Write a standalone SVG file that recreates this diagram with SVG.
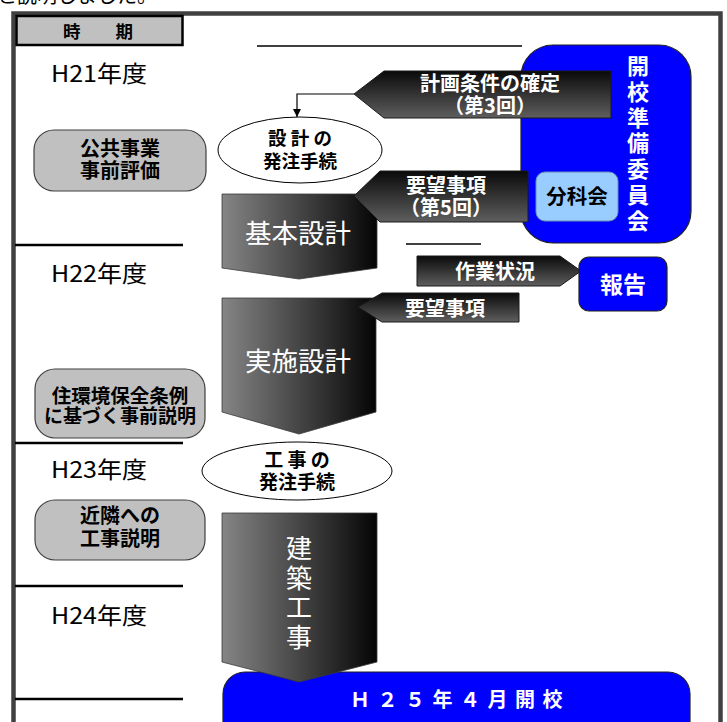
<svg xmlns="http://www.w3.org/2000/svg" width="727" height="722" viewBox="0 0 727 722">
<defs>
<linearGradient id="gH" x1="0" y1="0" x2="1" y2="0">
<stop offset="0" stop-color="#858585"/>
<stop offset="1" stop-color="#050505"/>
</linearGradient>
<linearGradient id="gV" x1="0" y1="0" x2="0" y2="1">
<stop offset="0" stop-color="#0a0a0a"/>
<stop offset="1" stop-color="#5e5e5e"/>
</linearGradient>
<marker id="ah" viewBox="0 0 10 10" refX="10" refY="5" markerWidth="8" markerHeight="8" markerUnits="userSpaceOnUse" orient="auto">
<path d="M0,0 L10,5 L0,10 z" fill="#000"/>
</marker>
<style>
text{font-family:"Noto Sans CJK JP","Noto Sans CJK SC",sans-serif;}
.b{font-weight:bold;}
.w{fill:#fff;}
.k{fill:#000;}
.mid{text-anchor:middle;}
.year{font-size:23px;fill:#000;}
.gbox{fill:#c0c0c0;stroke:#404040;stroke-width:1.2;}
.big{fill:url(#gH);stroke:#3a3a3a;stroke-width:0.8;}
.lab{fill:url(#gV);stroke:#1a1a1a;stroke-width:1;}
.blue{fill:#0000ff;stroke:#222;stroke-width:1.2;}
.ell{fill:#fff;stroke:#000;stroke-width:1;}
.sep{stroke:#000;stroke-width:2.5;}
.thin{stroke:#000;stroke-width:1.5;}
.vert{writing-mode:vertical-rl;}
</style>
</defs>
<rect width="727" height="722" fill="#fff"/>
<text x="-3" y="3" font-size="20" fill="#000">と説明しました。</text>

<rect x="13.5" y="13.5" width="707" height="730" fill="none" stroke="#404040" stroke-width="4.5"/>

<g id="header">
<rect x="16.5" y="16" width="166" height="29" fill="#c0c0c0" stroke="#000" stroke-width="2.5"/>
<text x="98" y="37.5" font-size="17.5" class="b k mid">時　　期</text>
</g>

<g id="year-lines">
<line x1="15" y1="245" x2="183" y2="245" class="sep"/>
<line x1="15" y1="443" x2="183" y2="443" class="sep"/>
<line x1="15" y1="586" x2="183" y2="586" class="sep"/>
<line x1="15" y1="699" x2="183" y2="699" class="sep"/>
<line x1="257" y1="46" x2="522" y2="46" class="thin"/>
<line x1="406" y1="244" x2="481" y2="244" class="thin"/>
</g>

<g id="years">
<text x="51" y="82" class="year" textLength="96" lengthAdjust="spacingAndGlyphs">H21年度</text>
<text x="51" y="282" class="year" textLength="96" lengthAdjust="spacingAndGlyphs">H22年度</text>
<text x="51" y="478" class="year" textLength="96" lengthAdjust="spacingAndGlyphs">H23年度</text>
<text x="51" y="624" class="year" textLength="96" lengthAdjust="spacingAndGlyphs">H24年度</text>
</g>

<g id="node-kokyo">
<rect x="34" y="130" width="172" height="61" rx="20" class="gbox"/>
<text font-size="20" class="b k mid"><tspan x="120" y="155.5">公共事業</tspan><tspan x="120" y="177.5">事前評価</tspan></text>
</g>
<g id="node-jukankyo">
<rect x="35" y="369" width="170" height="69" rx="20" class="gbox"/>
<text font-size="19.5" class="b k mid"><tspan x="120" y="402.5">住環境保全条例</tspan><tspan x="120" y="422.5" font-size="19">に基づく事前説明</tspan></text>
</g>
<g id="node-kinrin">
<rect x="35" y="500" width="170" height="60" rx="20" class="gbox"/>
<text font-size="20" class="b k mid"><tspan x="120" y="522.5">近隣への</tspan><tspan x="120" y="545.5">工事説明</tspan></text>
</g>

<g id="node-iinkai">
<rect x="521" y="45" width="170" height="198" rx="32" class="blue"/>
<text x="638" y="55" font-size="22" letter-spacing="3.7" class="b w vert">開校準備委員会</text>
</g>
<g id="node-bunkakai">
<rect x="536" y="172" width="82" height="49" rx="9" fill="#99ccff" stroke="#6a8fb0" stroke-width="1"/>
<text x="577" y="203.5" font-size="20.5" class="b k mid">分科会</text>
</g>

<g id="node-sekkei-hacchu">
<ellipse cx="300" cy="150" rx="82" ry="33" class="ell"/>
<text font-size="18.5" class="b k mid"><tspan x="300" y="145">設 計 の</tspan><tspan x="300" y="168">発注手続</tspan></text>
</g>

<g id="node-kihon">
<polygon points="222,194 377,194 377,268 299,279 222,268" class="big"/>
<text x="298" y="243" font-size="26.5" class="w mid">基本設計</text>
</g>

<g id="node-keikaku">
<polygon points="354,94 384,71 611,71 611,118 384,118" class="lab"/>
<text font-size="20" class="b w mid"><tspan x="490" y="90.5">計画条件の確定</tspan><tspan x="490" y="112.5">（第3回）</tspan></text>
</g>

<g id="node-yobo5">
<polygon points="354,196 380,171 528,171 528,222 380,222" class="lab"/>
<text font-size="20" class="b w mid"><tspan x="446" y="193">要望事項</tspan><tspan x="446" y="215">（第5回）</tspan></text>
</g>

<g id="node-sagyo">
<polygon points="417,256 560,256 581,271 560,286 417,286" class="lab"/>
<text x="495" y="278.5" font-size="20" class="b w mid">作業状況</text>
</g>
<g id="node-hokoku">
<rect x="579" y="257" width="88" height="54" rx="10" class="blue"/>
<text x="623" y="292.5" font-size="23" class="b w mid">報告</text>
</g>

<g id="node-jisshi">
<polygon points="222,298 376,298 376,412 299,434 222,412" class="big"/>
<text x="298" y="371" font-size="26.5" class="w mid">実施設計</text>
</g>

<g id="node-yobo">
<polygon points="358,307 382,293 519,293 519,322 382,322" class="lab"/>
<text x="445" y="315.5" font-size="20" class="b w mid">要望事項</text>
</g>

<g id="node-koji-hacchu">
<ellipse cx="297" cy="471" rx="95" ry="29" class="ell"/>
<text font-size="19" class="b k mid"><tspan x="297" y="467">工 事 の</tspan><tspan x="297" y="489">発注手続</tspan></text>
</g>

<g id="node-kaiko">
<rect x="223" y="672" width="467" height="80" rx="22" class="blue"/>
<text x="350" y="707" font-size="20" letter-spacing="7.5" class="b w">Ｈ２５年４月開校</text>
</g>

<g id="node-kenchiku">
<polygon points="222,513 377,513 377,662 299,682 222,662" class="big"/>
<text x="299" y="535" font-size="26" letter-spacing="3.7" class="w vert">建築工事</text>
</g>

<g id="connectors">
<polyline points="354,94 297,94 297,117" fill="none" stroke="#000" stroke-width="1.2" marker-end="url(#ah)"/>
</g>
</svg>
